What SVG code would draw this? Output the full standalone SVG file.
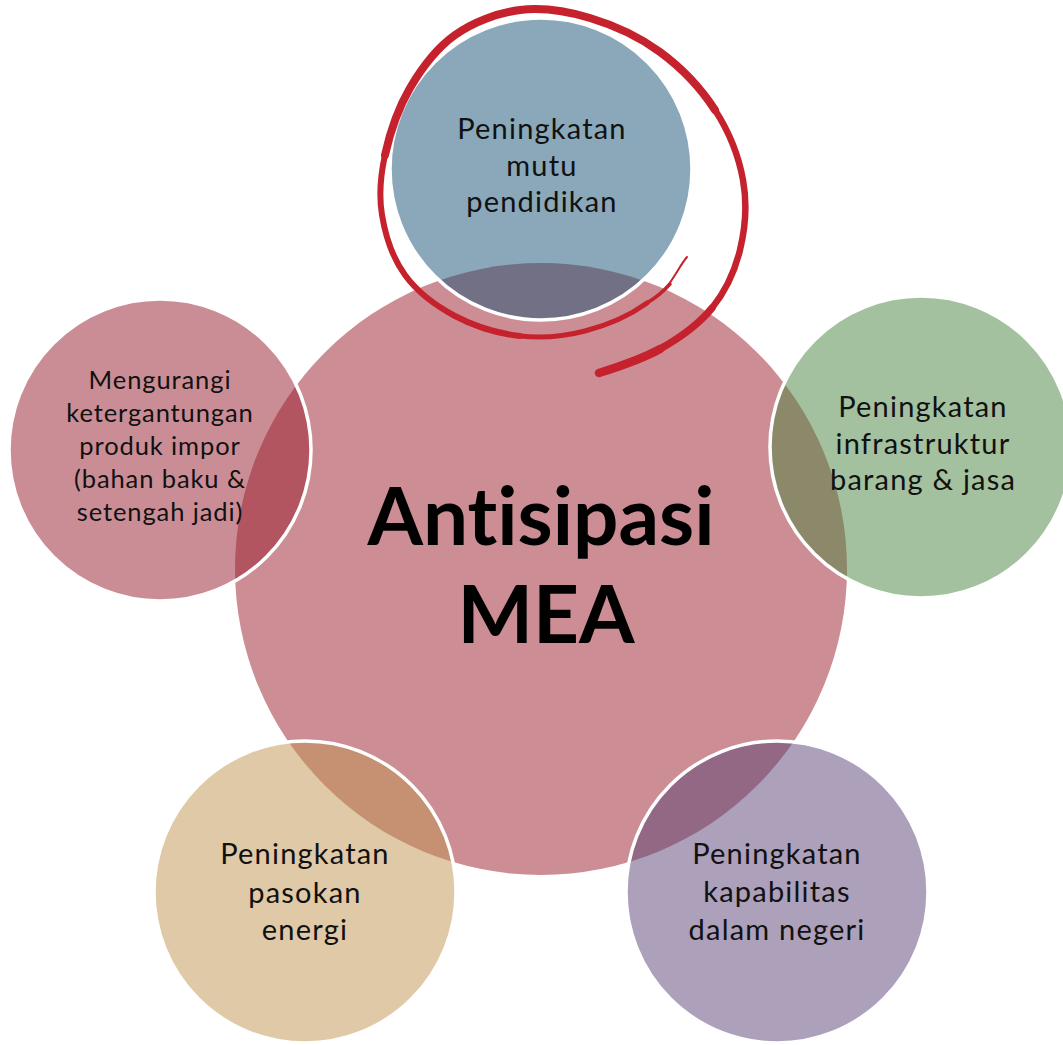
<svg xmlns="http://www.w3.org/2000/svg" width="1063" height="1045" viewBox="0 0 1063 1045">
  <style>
    .hub { fill: #CC8E94; }
    .sat { fill-opacity: 0.5; stroke: #FFFFFF; stroke-width: 3.5; }
    .lbl { font-family: Lato, "Open Sans", sans-serif; font-size: 29px; letter-spacing: 1.2px; fill: #111111; text-anchor: middle; font-variant-ligatures: none; }
    .lbl-sm { font-size: 25.5px; letter-spacing: 0.9px; }
    .title { font-family: Lato, "Liberation Sans", sans-serif; font-weight: bold; font-size: 80px; fill: #000000; text-anchor: middle; font-variant-ligatures: none; }
    .ink { fill: none; stroke: #C5222E; stroke-linecap: round; stroke-linejoin: round; }
  </style>
  <rect width="1063" height="1045" fill="#FFFFFF"/>

  <!-- central hub -->
  <g id="node-center">
    <circle class="hub" cx="541" cy="569" r="306"/>
    <text class="title" x="541" y="545">Antisipasi</text>
    <text class="title" x="546" y="643">MEA</text>
  </g>

  <!-- satellite: top -->
  <g id="node-pendidikan">
    <circle class="sat" cx="541" cy="169" r="151" fill="#155175"/>
    <text class="lbl" x="542" y="139">Peningkatan</text>
    <text class="lbl" x="542" y="175.5">mutu</text>
    <text class="lbl" x="542" y="212">pendidikan</text>
  </g>

  <!-- satellite: right -->
  <g id="node-infrastruktur">
    <circle class="sat" cx="921" cy="447" r="151" fill="#49833F"/>
    <text class="lbl" x="923" y="417">Peningkatan</text>
    <text class="lbl" x="923" y="453.5">infrastruktur</text>
    <text class="lbl" x="923" y="490">barang &amp; jasa</text>
  </g>

  <!-- satellite: bottom right -->
  <g id="node-kapabilitas">
    <circle class="sat" cx="777" cy="892" r="151" fill="#594175"/>
    <text class="lbl" x="777" y="864">Peningkatan</text>
    <text class="lbl" x="777" y="902">kapabilitas</text>
    <text class="lbl" x="777" y="940">dalam negeri</text>
  </g>

  <!-- satellite: bottom left -->
  <g id="node-energi">
    <circle class="sat" cx="305" cy="892" r="151" fill="#BF934F"/>
    <text class="lbl" x="305" y="864">Peningkatan</text>
    <text class="lbl" x="305" y="902.5">pasokan</text>
    <text class="lbl" x="305" y="940">energi</text>
  </g>

  <!-- satellite: left -->
  <g id="node-impor">
    <circle class="sat" cx="160" cy="450" r="151" fill="#971B2B"/>
    <text class="lbl lbl-sm" x="160" y="389">Mengurangi</text>
    <text class="lbl lbl-sm" x="160" y="422">ketergantungan</text>
    <text class="lbl lbl-sm" x="160" y="455">produk impor</text>
    <text class="lbl lbl-sm" x="160" y="488">(bahan baku &amp;</text>
    <text class="lbl lbl-sm" x="160" y="521">setengah jadi)</text>
  </g>

  <!-- no connectors between the nodes -->
  <g id="connectors"/>

  <!-- hand-drawn red highlight loop around the top satellite -->
  <g id="highlight-loop">
    <path class="ink" stroke-width="2" d="M687 257 C680.3 264.7 675 277 664 290.7"/>
    <path class="ink" stroke-width="3.5" d="M670 284 C664 290.7 657 297 647 303"/>
    <path class="ink" stroke-width="5" d="M647 303 C630 315.3 606.2 325.5 585 331 C563.8 336.5 541.7 338.5 520 336"/>
    <path class="ink" stroke-width="6" d="M520 336 C498.3 333.5 474.2 326.2 455 316 C435.8 305.8 417.2 291.8 405 275 C392.8 258.2 385.3 235 382 215 C378.7 195 380.3 176.2 385 155"/>
    <path class="ink" stroke-width="8" d="M385 155 C389.7 133.8 398.3 108 410 88 C421.7 68 436.7 48 455 35 C473.3 22 497.5 12.8 520 10 C542.5 7.2 566.7 11 590 18 C613.3 25 639.2 36.7 660 52 C680.8 67.3 701.2 88.7 715 110"/>
    <path class="ink" stroke-width="6.5" d="M715 110 C728.8 131.3 738.8 156.7 743 180 C747.2 203.3 745.2 228.7 740 250 C734.8 271.3 725.3 291.5 712 308"/>
    <path class="ink" stroke-width="7.5" d="M712 308 C698.7 324.5 679.2 338.2 660 349"/>
    <path class="ink" stroke-width="8.5" d="M660 349 C640.8 359.8 618 367 599 373"/>
  </g>
</svg>
